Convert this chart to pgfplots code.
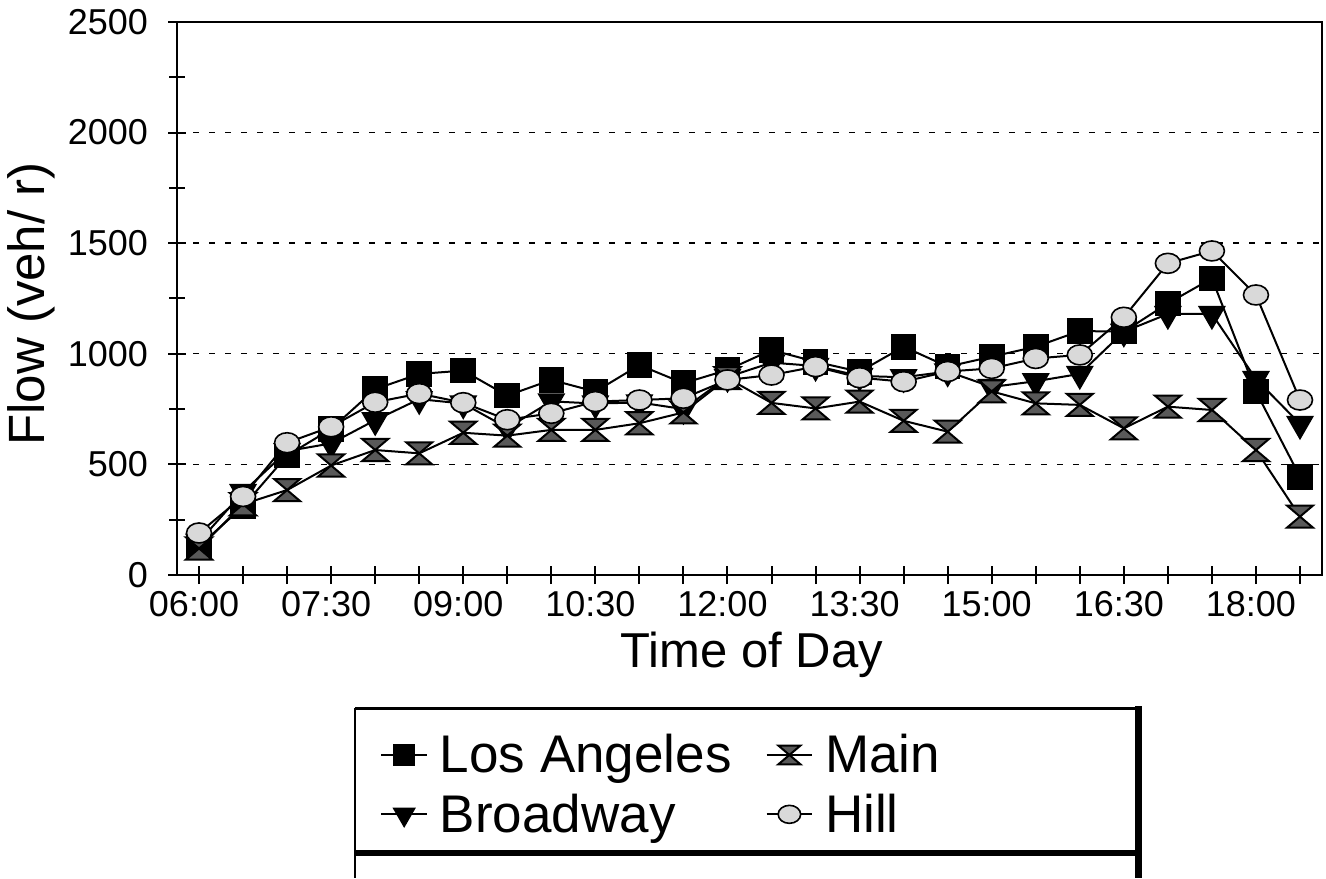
\documentclass[border=0pt]{standalone}
\usepackage{fontspec}
\setmainfont{Liberation Sans}
\usepackage{pgfplots}
\pgfplotsset{compat=1.18}

\pgfdeclareplotmark{hourglass}{%
  \pgfpathmoveto{\pgfpoint{-\pgfplotmarksize}{0.85\pgfplotmarksize}}%
  \pgfpathlineto{\pgfpoint{\pgfplotmarksize}{0.85\pgfplotmarksize}}%
  \pgfpathlineto{\pgfpoint{-\pgfplotmarksize}{-0.85\pgfplotmarksize}}%
  \pgfpathlineto{\pgfpoint{\pgfplotmarksize}{-0.85\pgfplotmarksize}}%
  \pgfpathclose
  \pgfusepathqfillstroke}

\pgfplotstableread{
idx LA   BW   MN   HL
0   130  150  120  190
1   310  375  320  355
2   540  560  384  598
3   660  595  495  670
4   840  700  565  781
5   909  795  550  820
6   924  775  643  779
7   811  665  630  702
8   882  785  656  731
9   829  775  656  784
10  949  780  686  791
11  867  750  735  799
12  927  895  890  882
13  1017 960  778  904
14  964  945  753  942
15  919  900  784  892
16  1032 894  697  874
17  942  920  648  920
18  987  850  830  934
19  1032 876  776  979
20  1103 909  769  995
21  1100 1100 663  1165
22  1228 1180 761  1409
23  1341 1180 746  1465
24  829  886  565  1266
25  444  683  264  791
}\flowdata

\pgfplotsset{
  la/.style={black, line width=1pt, mark=square*, mark size=6pt, mark options={solid, fill=black, line width=0.8pt}},
  bw/.style={black, line width=1pt, mark=triangle*, mark size=7.3pt, mark options={solid, fill=black, rotate=180, line width=0.8pt}},
  mn/.style={black, line width=1pt, mark=hourglass, mark size=6.5pt, mark options={solid, fill=black!65, line width=1pt}},
  hl/.style={black, line width=1pt, mark=*, mark size=5pt, mark options={solid, fill=black!15, xscale=1.25, line width=0.8pt}},
}

\begin{document}
\begin{tikzpicture}[x=1pt,y=1pt]
\useasboundingbox (0,0) rectangle (663,439);
\begin{axis}[
  at={(88.5pt,151.5pt)}, anchor=south west,
  scale only axis, width=572.5pt, height=276.5pt,
  xmin=-0.5, xmax=25.5, ymin=0, ymax=2500,
  xtick={0,...,25},
  xticklabels={06:00,,,07:30,,,09:00,,,10:30,,,12:00,,,13:30,,,15:00,,,16:30,,,18:00,},
  ytick={0,500,...,2500},
  minor ytick={250,750,...,2250},
  ymajorgrids,
  major grid style={dash pattern=on 3pt off 5pt, line width=0.7pt, black},
  tick align=center,
  major tick length=9pt, minor tick length=8pt,
  xtick pos=bottom, ytick pos=left,
  every tick/.style={black, line width=1pt},
  axis line style={line width=1pt},
  tick label style={font=\fontsize{18}{20}\selectfont},
  xticklabel style={xshift=-2.5pt},
  yticklabel style={xshift=-6.5pt},
  /pgf/number format/assume math mode=true,
  /pgf/number format/1000 sep={},
  xlabel={Time of Day},
  xlabel style={font=\fontsize{24.5}{26}\selectfont, at={(axis description cs:0.502,-0.145)}, anchor=center},
  ylabel={Flow (veh/ r)},
  ylabel style={font=\fontsize{25.5}{27}\selectfont, at={(axis description cs:-0.127,0.49)}, anchor=center},
  clip=false,
  legend columns=2,
  legend cell align=left,
  legend image code/.code={\draw[mark repeat=2,mark phase=2] plot coordinates {(0cm,0cm) (0.4cm,0cm) (0.8cm,0cm)};},
  legend style={at={(axis description cs:0.1773,-0.28)}, anchor=north west, draw=none, fill=none,
    inner sep=0pt, font=\fontsize{26.5}{30}\selectfont, row sep=5pt,
    /tikz/every odd column/.append style={column sep=4pt},
    /tikz/every even column/.append style={column sep=15pt}},
]
\addplot[la, forget plot] table[x=idx, y=LA] {\flowdata};
\addplot[bw, forget plot] table[x=idx, y=BW] {\flowdata};
\addplot[mn, forget plot] table[x=idx, y=MN] {\flowdata};
\addplot[hl, forget plot] table[x=idx, y=HL] {\flowdata};
\addlegendimage{la, mark size=5pt}
\addlegendentry{Los Angeles}
\addlegendimage{mn, mark size=5.5pt}
\addlegendentry{Main}
\addlegendimage{bw, mark size=6pt}
\addlegendentry{Broadway}
\addlegendimage{hl, mark size=4.5pt}
\addlegendentry{Hill}
\end{axis}
\draw[line width=1.5pt] (177.5,85) -- (570,85);
\draw[line width=1pt] (177.5,85) -- (177.5,0);
\draw[line width=3.5pt] (569,86) -- (569,0);
\draw[line width=3pt] (177.5,12.5) -- (570.5,12.5);
\end{tikzpicture}
\end{document}
